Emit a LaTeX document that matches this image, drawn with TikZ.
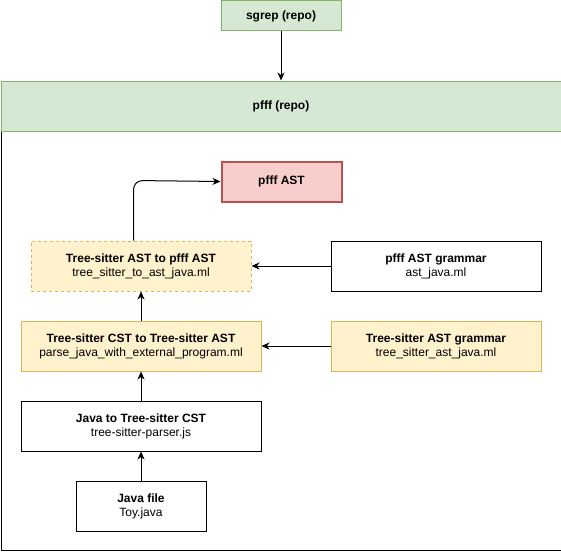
\documentclass[tikz,border=0pt]{standalone}
\usepackage{fontspec}
\setmainfont{Liberation Sans}
\usetikzlibrary{arrows.meta}
\definecolor{gfill}{HTML}{D5E8D4}
\definecolor{gline}{HTML}{82B366}
\definecolor{yfill}{HTML}{FFF2CC}
\definecolor{yline}{HTML}{D6B656}
\definecolor{rfill}{HTML}{F8CECC}
\definecolor{rline}{HTML}{B85450}
\tikzset{
  box/.style={draw, line width=1pt, inner sep=0pt, align=center, font=\fontsize{12}{14}\selectfont},
  greenbox/.style={box, fill=gfill, draw=gline},
  yellowbox/.style={box, fill=yfill, draw=yline},
  redbox/.style={box, fill=rfill, draw=rline, line width=2pt},
  plainbox/.style={box, fill=white, draw=black},
  conn/.style={line width=1pt, -{Stealth[length=8pt,width=7pt,inset=2.5pt]}},
}
\begin{document}
\begin{tikzpicture}[x=1pt,y=-1pt]
\useasboundingbox (0,0) rectangle (561,551);
% container
\node[draw=black, line width=1pt, fill=white, minimum width=560pt, minimum height=420pt, inner sep=0pt, anchor=north west] (cont) at (0.5,130) {};
\node[greenbox, minimum width=560pt, minimum height=50pt, anchor=north west] (pfff) at (0.5,80.5) {\textbf{pfff (repo)}};
\node[greenbox, minimum width=120pt, minimum height=30pt, anchor=north west] (sgrep) at (220.5,0.5) {\textbf{sgrep (repo)}};
\node[redbox, minimum width=120pt, minimum height=40pt, anchor=north west] (ast) at (220.5,160.5) {\textbf{pfff AST}};
\node[yellowbox, dashed, dash pattern=on 3pt off 3pt, minimum width=220pt, minimum height=50pt, anchor=north west] (ts2pfff) at (30.5,240.5) {\textbf{Tree-sitter AST to pfff AST}\\tree\_sitter\_to\_ast\_java.ml};
\node[plainbox, minimum width=210pt, minimum height=50pt, anchor=north west] (pgram) at (330.5,240.5) {\textbf{pfff AST grammar}\\ast\_java.ml};
\node[yellowbox, minimum width=240pt, minimum height=50pt, anchor=north west] (cst2ast) at (20.5,320.5) {\textbf{Tree-sitter CST to Tree-sitter AST}\\parse\_java\_with\_external\_program.ml};
\node[yellowbox, minimum width=210pt, minimum height=50pt, anchor=north west] (tgram) at (330.5,320.5) {\textbf{Tree-sitter AST grammar}\\tree\_sitter\_ast\_java.ml};
\node[plainbox, minimum width=240pt, minimum height=50pt, anchor=north west] (java2cst) at (20.5,400.5) {\textbf{Java to Tree-sitter CST}\\tree-sitter-parser.js};
\node[plainbox, minimum width=130pt, minimum height=50pt, anchor=north west] (jfile) at (75.5,480.5) {\textbf{Java file}\\Toy.java};
% connectors
\draw[conn] (sgrep) -- (pfff);
\draw[conn] (jfile) -- (java2cst);
\draw[conn] (java2cst) -- (cst2ast);
\draw[conn] (cst2ast) -- (ts2pfff);
\draw[conn] (tgram) -- (cst2ast.east |- tgram);
\draw[conn] (pgram) -- (ts2pfff.east |- pgram);
\coordinate (bend) at (133.5,180.5);
\draw[conn, rounded corners=9pt] (ts2pfff.north -| bend) -- (bend) -- (ast.west);
\end{tikzpicture}
\end{document}
